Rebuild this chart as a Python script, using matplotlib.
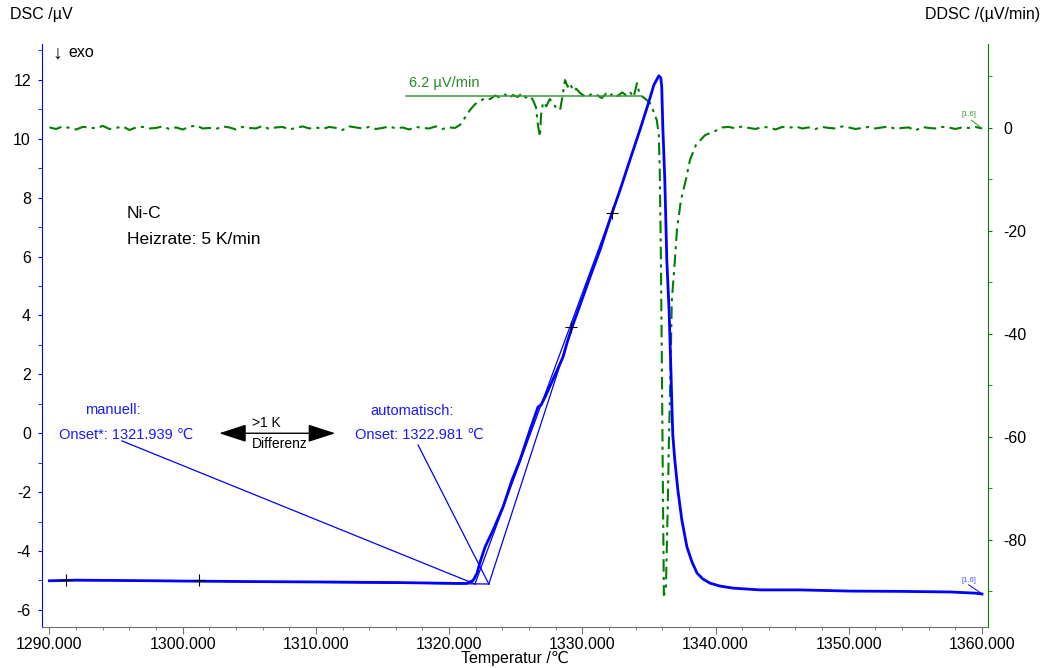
import matplotlib
matplotlib.use("Agg")
import matplotlib.pyplot as plt
from matplotlib.ticker import MultipleLocator, FormatStrFormatter

plt.rcParams['font.family'] = ['Liberation Sans', 'DejaVu Sans']
plt.rcParams['axes.unicode_minus'] = False

BLUE = '#0000ff'
TXT_BLUE = '#1a1aff'
GREEN = '#008000'

# DSC signal (µV) over temperature (°C)
dsc_temp = [1290.0, 1292.0, 1295.0, 1298.0, 1300.0, 1303.0, 1306.0, 1310.0, 1313.0,
            1316.0, 1319.0, 1320.5, 1321.3, 1321.8, 1322.1, 1322.3, 1322.7, 1323.3,
            1324.05, 1324.72, 1325.32, 1326.07, 1326.67, 1326.9, 1327.2, 1327.95,
            1328.55, 1328.85, 1329.23, 1329.83, 1330.58, 1331.33, 1332.23, 1332.83,
            1333.57, 1334.32, 1334.92, 1335.37, 1335.74, 1335.89, 1335.96, 1336.04,
            1336.19, 1336.34, 1336.51, 1336.66, 1336.72, 1336.79, 1336.94, 1337.17,
            1337.47, 1337.85, 1338.23, 1338.61, 1339.05, 1339.58, 1340.33, 1341.31,
            1343.34, 1346.3, 1350.1, 1353.85, 1357.6, 1359.5, 1360.0]
dsc_val = [-5.01, -4.99, -5.00, -5.01, -5.02, -5.03, -5.04, -5.05, -5.06,
           -5.07, -5.09, -5.10, -5.10, -5.00, -4.75, -4.41, -3.86, -3.29,
           -2.50, -1.59, -0.91, 0.11, 0.89, 0.96, 1.23, 1.98,
           2.59, 3.07, 3.61, 4.36, 5.31, 6.23, 7.48, 8.26,
           9.28, 10.30, 11.15, 11.83, 12.14, 12.07, 11.76, 10.40,
           8.60, 5.89, 4.19, 1.98, 0.96, -0.06, -0.91, -1.93,
           -2.95, -3.86, -4.37, -4.75, -4.95, -5.09, -5.19, -5.26,
           -5.32, -5.32, -5.36, -5.37, -5.39, -5.43, -5.46]

# DDSC signal (µV/min): left baseline, step region, right baseline
ddsc_temp_left = [1290.0, 1290.5, 1291.0, 1291.5, 1292.0, 1292.5, 1293.0, 1293.5, 1294.0, 1294.5,
                  1295.0, 1295.5, 1296.0, 1296.5, 1297.0, 1297.5, 1298.0, 1298.5, 1299.0, 1299.5,
                  1300.0, 1300.5, 1301.0, 1301.5, 1302.0, 1302.5, 1303.0, 1303.5, 1304.0, 1304.5,
                  1305.0, 1305.5, 1306.0, 1306.5, 1307.0, 1307.5, 1308.0, 1308.5, 1309.0, 1309.5,
                  1310.0, 1310.5, 1311.0, 1311.5, 1312.0, 1312.5, 1313.0, 1313.5, 1314.0, 1314.5,
                  1315.0, 1315.5, 1316.0, 1316.5, 1317.0, 1317.5, 1318.0, 1318.5, 1319.0, 1319.5,
                  1320.0]
ddsc_left = [0.1, -0.2, 0.3, 0.0, -0.3, 0.2, 0.1, -0.1, 0.4, -0.2,
             0.0, 0.3, -0.4, 0.1, 0.2, -0.1, 0.0, 0.3, -0.2, 0.1,
             -0.3, 0.2, 0.5, -0.1, 0.0, -0.2, 0.3, 0.1, -0.3, 0.2,
             0.0, -0.1, 0.4, -0.2, 0.1, 0.2, -0.3, 0.0, 0.3, -0.1,
             0.1, -0.2, 0.2, 0.0, -0.4, 0.3, 0.1, -0.1, 0.2, -0.2,
             0.0, 0.3, -0.1, 0.1, -0.3, 0.2, 0.0, -0.1, 0.3, -0.2,
             0.1]
ddsc_temp_mid = [1320.44, 1320.82, 1321.19, 1321.57, 1321.94, 1322.32, 1322.70, 1323.07,
                 1323.45, 1323.82, 1324.20, 1324.50, 1324.80, 1325.15, 1325.45, 1325.75,
                 1326.07, 1326.30, 1326.52, 1326.67, 1326.82, 1326.90, 1327.05, 1327.30,
                 1327.55, 1327.80, 1328.05, 1328.33, 1328.50, 1328.70, 1328.90, 1329.08,
                 1329.30, 1329.55, 1329.83, 1330.10, 1330.35, 1330.70, 1331.10, 1331.45,
                 1331.80, 1332.05, 1332.30, 1332.65, 1333.00, 1333.30, 1333.57, 1333.85,
                 1334.10, 1334.30, 1334.55, 1334.80, 1335.06, 1335.30, 1335.44, 1335.59,
                 1335.74, 1335.81, 1335.89, 1335.96, 1336.04, 1336.12, 1336.27, 1336.42,
                 1336.50, 1336.57, 1336.72, 1336.95, 1337.10, 1337.40, 1337.77, 1338.08,
                 1338.53, 1339.21, 1339.96, 1340.50]
ddsc_mid = [0.0, 0.6, 2.0, 3.5, 4.6, 5.2, 5.8, 5.6,
            6.3, 5.9, 6.5, 5.8, 6.4, 6.0, 6.7, 5.9,
            6.2, 5.4, 4.0, 0.5, -1.7, 2.5, 5.0, 4.2,
            5.6, 4.9, 3.8, 3.5, 6.0, 9.3, 8.0, 8.7,
            7.2, 7.6, 6.8, 6.3, 6.0, 6.6, 6.4, 5.8,
            6.7, 6.1, 6.8, 6.2, 6.9, 6.3, 7.0, 6.0,
            8.7, 6.5, 6.0, 5.5, 4.9, 3.5, 2.5, 1.5,
            -1.4, -8.2, -23.7, -43.1, -68.3, -90.7, -89.7, -72.2,
            -60.6, -52.8, -33.4, -25.6, -19.8, -14.0, -10.1, -6.2,
            -3.3, -1.4, -0.6, 0.1]
ddsc_temp_right = [1341.0, 1341.5, 1342.0, 1342.5, 1343.0, 1343.5, 1344.0, 1344.5, 1345.0, 1345.5,
                   1346.0, 1346.5, 1347.0, 1347.5, 1348.0, 1348.5, 1349.0, 1349.5, 1350.0, 1350.5,
                   1351.0, 1351.5, 1352.0, 1352.5, 1353.0, 1353.5, 1354.0, 1354.5, 1355.0, 1355.5,
                   1356.0, 1356.5, 1357.0, 1357.5, 1358.0, 1358.5, 1359.0, 1359.5, 1360.0]
ddsc_right = [0.2, -0.1, 0.3, 0.0, -0.2, 0.2, 0.1, -0.3, 0.2, 0.0,
              0.3, -0.1, 0.1, -0.2, 0.2, 0.0, -0.1, 0.3, 0.1, -0.2,
              0.0, 0.2, -0.1, 0.1, 0.3, -0.2, 0.0, 0.1, -0.5, 0.2,
              0.0, -0.1, 0.2, 0.1, -0.2, 0.1, 0.0, 0.2, -0.1]

# evaluation marks and onsets
cross_temp = [1291.24, 1301.22, 1329.15, 1332.23]
cross_val = [-4.98, -4.99, 3.61, 7.48]
onset_manual = 1321.939
onset_auto = 1322.981
onset_level = -5.12
tangent_manual_end = (1332.4, 7.7)
tangent_auto_end = (1329.5, 3.95)
step_height = 6.2

fig = plt.figure(figsize=(10.47, 6.68), dpi=100)
ax = fig.add_axes([42 / 1047, 41 / 668, 946 / 1047, 583 / 668])
ax2 = ax.twinx()
ax.set_zorder(ax2.get_zorder() + 1)
ax.patch.set_visible(False)

# DDSC curve (right axis)
ax2.plot(ddsc_temp_left + ddsc_temp_mid + ddsc_temp_right,
         ddsc_left + ddsc_mid + ddsc_right,
         color=GREEN, lw=1.5, linestyle=(0, (6, 2.5, 1.5, 2.5)))
ax2.plot([1316.8, 1334.4], [step_height, step_height], color='#3c963c', lw=1.1)
ax2.text(1317.0, step_height + 1.2, f"{step_height} µV/min", color='#2a8a2a',
         fontsize=10.5, va='bottom', ha='left')
ax2.text(1359.05, 2.0, "[1.6]", color='#3c963c', fontsize=5.5, ha='center', va='bottom')
ax2.plot([1359.2, 1360.0], [1.5, -0.1], color='#3c963c', lw=0.7)

# DSC curve (left axis)
ax.plot(dsc_temp, dsc_val, color=BLUE, lw=2.0, solid_joinstyle='round')

# tangents and onset construction
ax.plot([cross_temp[0], onset_auto], [cross_val[0], onset_level], color=BLUE, lw=0.9)
ax.plot([onset_manual, tangent_manual_end[0]], [onset_level, tangent_manual_end[1]], color=BLUE, lw=0.9)
ax.plot([onset_auto, tangent_auto_end[0]], [onset_level, tangent_auto_end[1]], color=BLUE, lw=0.9)
ax.plot(cross_temp, cross_val, linestyle='none', marker='+', color='black', ms=8, mew=0.8)

# annotations
ax.text(1294.77, 0.79, "manuell:", color=TXT_BLUE, fontsize=10.5, ha='center', va='center')
ax.text(1290.71, -0.06, f"Onset*: {onset_manual:.3f} \u2103", color=TXT_BLUE, fontsize=10.5,
        ha='left', va='center')
ax.plot([1295.44, onset_manual], [-0.26, onset_level], color=BLUE, lw=0.9)
ax.text(1317.21, 0.76, "automatisch:", color=TXT_BLUE, fontsize=10.5, ha='center', va='center')
ax.text(1312.94, -0.06, f"Onset: {onset_auto:.3f} \u2103", color=TXT_BLUE, fontsize=10.5,
        ha='left', va='center')
ax.plot([1317.67, onset_auto], [-0.40, onset_level], color=BLUE, lw=0.9)

ax.annotate('', xy=(1302.74, 0.0), xytext=(1311.45, 0.0),
            arrowprops=dict(arrowstyle='<|-|>,head_length=1.7,head_width=0.55',
                            color='black', lw=1.0, shrinkA=0, shrinkB=0))
ax.text(1305.2, 0.12, ">1 K", fontsize=10, ha='left', va='bottom')
ax.text(1305.2, -0.12, "Differenz", fontsize=10, ha='left', va='top')

ax.text(1295.82, 7.48, "Ni-C", fontsize=12.5, ha='left', va='center')
ax.text(1295.82, 6.57, "Heizrate: 5 K/min", fontsize=12.5, ha='left', va='center')
ax.text(1359.05, -5.0, "[1.6]", color='#5050ff', fontsize=5.5, ha='center', va='center')
ax.plot([1359.0, 1360.0], [-5.15, -5.45], color=BLUE, lw=0.7)
ax.text(10 / 946, 0.983, "\u2193", transform=ax.transAxes, fontsize=14, ha='left', va='center')
ax.text(26 / 946, 0.985, "exo", transform=ax.transAxes, fontsize=11.5, ha='left', va='center')

# axes formatting
ax.set_xlim(1289.44, 1360.45)
ax.set_ylim(-6.58, 13.22)
ax2.set_ylim(-96.9, 16.3)
ax.xaxis.set_major_locator(MultipleLocator(10))
ax.xaxis.set_minor_locator(MultipleLocator(2))
ax.xaxis.set_major_formatter(FormatStrFormatter('%.3f'))
ax.yaxis.set_major_locator(MultipleLocator(2))
ax.yaxis.set_minor_locator(MultipleLocator(1))
ax2.yaxis.set_major_locator(MultipleLocator(20))
ax2.yaxis.set_minor_locator(MultipleLocator(10))

ax.tick_params(axis='x', which='major', length=5, color='#707070', labelsize=11.5, pad=2)
ax.tick_params(axis='x', which='minor', length=2.5, color='#707070')
ax.tick_params(axis='y', which='both', length=3, color=BLUE, labelsize=11.5, pad=5)
ax2.tick_params(axis='y', which='both', length=3, color=GREEN, labelsize=11.5, pad=8)

for a in (ax, ax2):
    a.spines['top'].set_visible(False)
ax.spines['right'].set_visible(False)
ax.spines['left'].set_color(BLUE)
ax.spines['bottom'].set_color('#707070')
ax2.spines['left'].set_visible(False)
ax2.spines['bottom'].set_visible(False)
ax2.spines['right'].set_color(GREEN)

fig.text(10 / 1047, 1 - 15 / 668, "DSC /µV", fontsize=11.5, ha='left', va='center')
fig.text(1040 / 1047, 1 - 15 / 668, "DDSC /(µV/min)", fontsize=11.5, ha='right', va='center')
fig.text(515 / 1047, 1 - 658 / 668, "Temperatur /\u2103", fontsize=11.5, ha='center', va='center')

fig.savefig("out.png", dpi=100)
